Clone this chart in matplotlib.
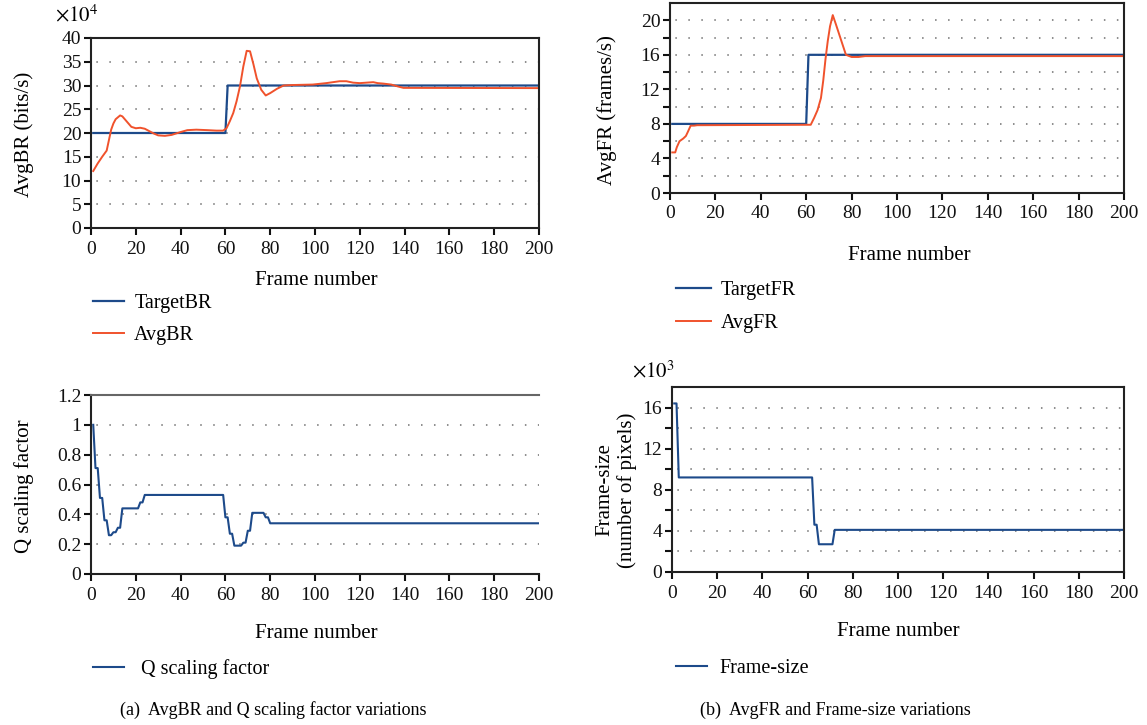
import matplotlib.pyplot as plt

plt.rcParams['font.family'] = ['Liberation Serif', 'DejaVu Serif']
plt.rcParams['mathtext.fontset'] = 'stix'

BLUE = '#1d4a8a'
RED = '#f0522c'
GRID = '#6f6f6f'

W, H = 1147, 725

# AvgBR panel (values in 10^4 bits/s)
target_br_frames = [1, 60, 61, 200]
target_br = [20, 20, 30, 30]
avg_br_frames = [1, 3, 5, 7, 8, 9, 10, 11, 13, 14, 16, 18, 20, 22, 24, 26, 28, 30, 33, 36,
                 40, 43, 47, 52, 56, 59, 60.5, 62, 63.5, 65, 66.5, 68, 69.5, 71, 72.5, 74,
                 76, 78, 80, 83, 86, 90, 99, 105, 111, 114, 117, 120, 123, 126, 128, 130.5,
                 134, 137, 139.5, 200]
avg_br = [12.0, 13.6, 15.0, 16.3, 18.5, 20.7, 22.0, 22.9, 23.7, 23.5, 22.4, 21.3, 21.0, 21.1,
          20.9, 20.4, 19.9, 19.5, 19.4, 19.6, 20.2, 20.6, 20.7, 20.6, 20.5, 20.5, 21.0, 22.5,
          24.2, 26.7, 29.8, 34.0, 37.3, 37.2, 34.5, 31.5, 29.1, 27.9, 28.4, 29.3, 30.0, 30.1,
          30.2, 30.5, 30.9, 30.9, 30.6, 30.5, 30.6, 30.7, 30.5, 30.4, 30.2, 29.8, 29.5, 29.45]

# AvgFR panel (frames/s)
target_fr_frames = [1, 60, 61, 200]
target_fr = [8, 8, 16, 16]
avg_fr_frames = [1, 2.3, 3, 4.2, 5.8, 7, 7.9, 9.1, 10.6, 12, 62, 63.5, 65, 66.5, 67.5, 68.5,
                 69.5, 70.5, 71.7, 73, 75, 77.5, 80, 83, 86, 200]
avg_fr = [4.7, 4.7, 5.3, 6.0, 6.3, 6.6, 7.1, 7.8, 7.8, 7.85, 7.9, 8.7, 9.6, 11.0, 13.0, 15.5,
          17.6, 19.3, 20.6, 19.6, 18.0, 16.0, 15.75, 15.75, 15.85, 15.85]

# Q scaling factor
q_frames = [1, 2, 3, 4, 5, 6, 7, 8, 9, 10, 11, 12, 13, 14, 21, 22, 23, 24, 59, 60, 61, 62, 63,
            64, 67, 68, 69, 70, 71, 72, 77, 78, 79, 80, 200]
q_scale = [1.0, 0.71, 0.71, 0.51, 0.51, 0.36, 0.36, 0.26, 0.26, 0.28, 0.28, 0.31, 0.31, 0.44,
           0.44, 0.48, 0.48, 0.53, 0.53, 0.38, 0.38, 0.27, 0.27, 0.19, 0.19, 0.21, 0.21, 0.29,
           0.29, 0.41, 0.41, 0.38, 0.38, 0.34, 0.34]

# Frame size (10^3 pixels)
fs_frames = [1, 2, 3, 62, 63, 64, 65, 71, 72, 200]
frame_size = [16.4, 16.4, 9.2, 9.2, 4.6, 4.6, 2.7, 2.7, 4.1, 4.1]

fig = plt.figure(figsize=(W / 100, H / 100), dpi=100)


def add_axes_px(left, top, right, bottom):
    return fig.add_axes([left / W, 1 - bottom / H, (right - left) / W, (bottom - top) / H])


def fig_text(x, y, s, **kw):
    kw.setdefault('fontsize', 15)
    return fig.text(x / W, 1 - y / H, s, **kw)


def add_legend(ax, x, y, pad):
    fig.legend(*ax.get_legend_handles_labels(), loc='upper left',
               bbox_to_anchor=(x / W, 1 - y / H), frameon=False, fontsize=14.5,
               handlelength=1.55, handletextpad=pad, labelspacing=0.62,
               borderpad=0, borderaxespad=0)


def style_axes(ax, ymax, yticks, ylabels, grid_levels):
    ax.set_xlim(0, 200)
    ax.set_ylim(0, ymax)
    ax.set_xticks(range(0, 201, 20))
    ax.set_yticks(yticks)
    ax.set_yticklabels(ylabels)
    ax.tick_params(direction='out', length=5, width=1.5, labelsize=14, colors='#111111')
    ax.tick_params(axis='x', pad=4)
    ax.tick_params(axis='y', pad=2)
    for sp in ax.spines.values():
        sp.set_linewidth(1.5)
        sp.set_color('#222222')
    for y in grid_levels:
        ax.axhline(y, color=GRID, lw=1.1, ls=(5, (1, 7.5)), zorder=0)


# (a) top: AvgBR
ax1 = add_axes_px(91, 38, 539, 228)
ax1.plot(target_br_frames, target_br, color=BLUE, lw=1.6, label='TargetBR')
ax1.plot(avg_br_frames, avg_br, color=RED, lw=1.4, label='AvgBR')
style_axes(ax1, 40, range(0, 41, 5), [str(v) for v in range(0, 41, 5)], range(5, 40, 5))
fig_text(55, 16, r'$\times 10^4$', ha='left', va='center')
fig_text(24, 134, 'AvgBR (bits/s)', rotation=90, ha='center', va='center')
fig_text(316, 281, 'Frame number', ha='center', va='center')
add_legend(ax1, 93, 294, 0.5)

# (b) top: AvgFR
ax2 = add_axes_px(670, 3, 1124, 193)
ax2.plot(target_fr_frames, target_fr, color=BLUE, lw=1.6, label='TargetFR')
ax2.plot(avg_fr_frames, avg_fr, color=RED, lw=1.4, label='AvgFR')
style_axes(ax2, 22, range(0, 21, 2), [str(v) if v % 4 == 0 else '' for v in range(0, 21, 2)],
           range(2, 21, 2))
fig_text(607, 110, 'AvgFR (frames/s)', rotation=90, ha='center', va='center')
fig_text(909, 255, 'Frame number', ha='center', va='center')
fig.legend(*ax2.get_legend_handles_labels(), loc='upper left',
           bbox_to_anchor=(676 / W, 1 - 281 / H), frameon=False, fontsize=14.5,
           handlelength=1.75, handletextpad=0.45, labelspacing=0.68,
           borderpad=0, borderaxespad=0)

# (a) bottom: Q scaling factor
ax3 = add_axes_px(91, 395, 539, 574)
ax3.plot(q_frames, q_scale, color=BLUE, lw=1.5, label='Q scaling factor')
qticks = [0, 0.2, 0.4, 0.6, 0.8, 1.0, 1.2]
style_axes(ax3, 1.2, qticks, ['0', '0.2', '0.4', '0.6', '0.8', '1', '1.2'], qticks[1:-1])
ax3.spines['top'].set_color('#666666')
ax3.spines['right'].set_visible(False)
fig_text(24, 486, 'Q scaling factor', rotation=90, ha='center', va='center')
fig_text(316, 633, 'Frame number', ha='center', va='center')
add_legend(ax3, 93, 659, 0.85)

# (b) bottom: frame size
ax4 = add_axes_px(672, 387, 1124, 572)
ax4.plot(fs_frames, frame_size, color=BLUE, lw=1.5, label='Frame-size')
style_axes(ax4, 18, range(0, 17, 2), [str(v) if v % 4 == 0 else '' for v in range(0, 17, 2)],
           range(2, 17, 2))
fig_text(632, 372, r'$\times 10^3$', ha='left', va='center')
fig_text(616, 490, 'Frame-size\n(number of pixels)', rotation=90, ha='center', va='center',
         linespacing=1.2)
fig_text(898, 632, 'Frame number', ha='center', va='center')
add_legend(ax4, 676, 659, 0.6)

fig_text(120, 710, '(a)  AvgBR and Q scaling factor variations', ha='left', va='center', fontsize=13)
fig_text(700, 710, '(b)  AvgFR and Frame-size variations', ha='left', va='center', fontsize=13)

fig.savefig('out.png', dpi=100)
